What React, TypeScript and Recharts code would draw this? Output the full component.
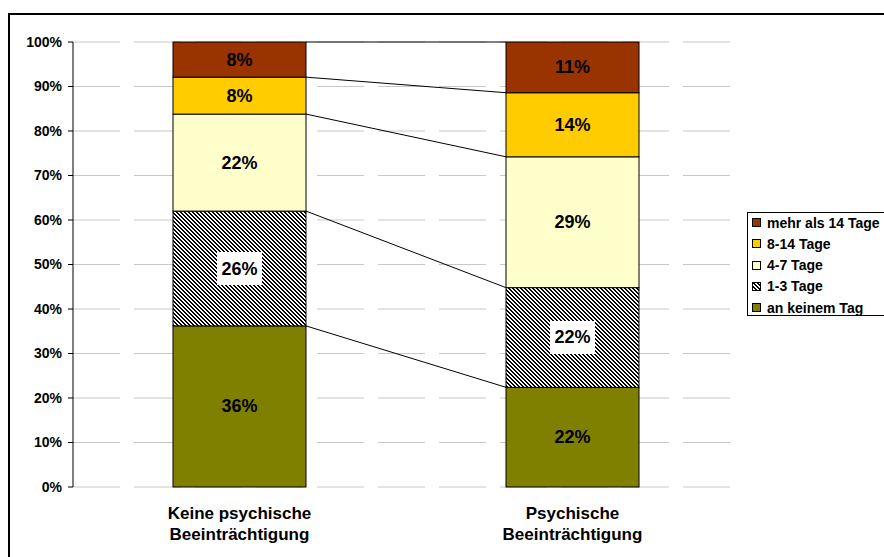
import React from 'react';
import { BarChart, Bar, XAxis, YAxis, CartesianGrid, Legend, LabelList } from 'recharts';

const FONT = "Arial, 'Liberation Sans', Helvetica, sans-serif";

const categories = ['Keine psychische Beeinträchtigung', 'Psychische Beeinträchtigung'];
const seriesNames = ['an keinem Tag', '1-3 Tage', '4-7 Tage', '8-14 Tage', 'mehr als 14 Tage'];
const anKeinemTag = [36.2, 22.4];
const einsBisDreiTage = [25.8, 22.4];
const vierBisSiebenTage = [21.8, 29.4];
const achtBisVierzehnTage = [8.3, 14.4];
const mehrAlsVierzehnTage = [7.9, 11.4];
const yTicks = [0, 10, 20, 30, 40, 50, 60, 70, 80, 90, 100];
const boundaryTicks = [0, 1, 2];

const seriesValues = [anKeinemTag, einsBisDreiTage, vierBisSiebenTage, achtBisVierzehnTage, mehrAlsVierzehnTage];
const seriesFills = ['#808000', 'url(#hatch13)', '#FFFFCC', '#FFCC00', '#993300'];
const seriesKeys = ['s0', 's1', 's2', 's3', 's4'];

const data = categories.map((c, i) => {
  const row: Record<string, any> = { category: c };
  seriesKeys.forEach((k, j) => {
    row[k] = seriesValues[j][i];
  });
  return row;
});

const edges: Record<string, { x: number; y: number }> = {};

const makeShape = (key: string) => (props: any) => {
  const { x, y, width, height, fill, index } = props;
  if (index === 0) edges[key] = { x: x + width, y };
  const prev = edges[key];
  return (
    <g>
      <rect x={x} y={y} width={width} height={height} fill={fill} stroke="#000" strokeWidth={1} />
      {index === 1 && prev && (
        <line x1={prev.x} y1={prev.y} x2={x} y2={y} stroke="#000" strokeWidth={1} />
      )}
    </g>
  );
};

const makeLabel = (boxed: boolean) => (props: any) => {
  const { x, y, width, height, value } = props;
  const cx = Number(x) + Number(width) / 2;
  const cy = Number(y) + Number(height) / 2;
  return (
    <g>
      {boxed && <rect x={cx - 22.5} y={cy - 16.5} width={45} height={33} fill="#fff" />}
      <text
        x={cx}
        y={cy}
        textAnchor="middle"
        dominantBaseline="central"
        fontSize={18}
        fontWeight="bold"
        fontFamily={FONT}
        fill="#000"
      >
        {Math.round(Number(value))}%
      </text>
    </g>
  );
};

const CategoryTick = (props: any) => {
  const { x, y, payload } = props;
  const s = String(payload.value);
  const i = s.lastIndexOf(' ');
  const lines = [s.slice(0, i), s.slice(i + 1)];
  return (
    <text x={x} y={y} textAnchor="middle" fontSize={17} fontWeight="bold" fontFamily={FONT} fill="#000">
      {lines.map((l, k) => (
        <tspan key={k} x={x} dy={k === 0 ? 32 : 21}>
          {l}
        </tspan>
      ))}
    </text>
  );
};

const renderLegend = (props: any) => {
  const payload: any[] = props.payload || [];
  const items = [...payload].sort(
    (a, b) => seriesNames.indexOf(String(b.value)) - seriesNames.indexOf(String(a.value))
  );
  return (
    <div
      style={{
        width: 145,
        height: 102,
        border: '1px solid #000',
        background: '#fff',
        fontFamily: FONT,
        fontWeight: 'bold',
        fontSize: 14,
        color: '#000',
        boxSizing: 'content-box',
      }}
    >
      <div style={{ marginTop: -1 }}>
        {items.map((e) => (
          <div key={String(e.value)} style={{ height: 21.25, display: 'flex', alignItems: 'center' }}>
            <svg width={9} height={9} style={{ marginLeft: 4, marginRight: 6, flex: 'none' }}>
              <rect x={0.5} y={0.5} width={8} height={8} fill={e.color} stroke="#000" strokeWidth={1} />
            </svg>
            <span style={{ whiteSpace: 'nowrap' }}>{e.value}</span>
          </div>
        ))}
      </div>
    </div>
  );
};

export default function App() {
  return (
    <div style={{ position: 'fixed', left: 0, top: 0, width: 884, height: 557, background: '#fff' }}>
      <svg width={0} height={0} style={{ position: 'absolute' }}>
        <defs>
          <pattern id="hatch13" patternUnits="userSpaceOnUse" width={4} height={4}>
            <rect x={0} y={0} width={4} height={4} fill="#fff" />
            <rect x={0} y={0} width={2} height={1} fill="#000" />
            <rect x={1} y={1} width={2} height={1} fill="#000" />
            <rect x={2} y={2} width={2} height={1} fill="#000" />
            <rect x={3} y={3} width={1} height={1} fill="#000" />
            <rect x={0} y={3} width={1} height={1} fill="#000" />
          </pattern>
        </defs>
      </svg>
      <BarChart
        width={884}
        height={557}
        data={data}
        margin={{ top: 42, right: 145, bottom: 10, left: 0 }}
        barSize={133}
        style={{ fontFamily: FONT }}
      >
        <CartesianGrid xAxisId="cat" vertical={false} stroke="#c8c8c8" strokeDasharray="47 14" />
        <XAxis
          xAxisId="edge"
          type="number"
          domain={[0, 2]}
          ticks={boundaryTicks}
          tick={false}
          tickSize={5}
          tickLine={{ stroke: '#000' }}
          axisLine={{ stroke: '#000' }}
          height={0}
          allowDataOverflow
        />
        <XAxis
          xAxisId="cat"
          dataKey="category"
          axisLine={false}
          tickLine={false}
          tickSize={0}
          tickMargin={0}
          height={60}
          interval={0}
          tick={<CategoryTick />}
        />
        <YAxis
          width={73}
          domain={[0, 100]}
          ticks={yTicks}
          tickFormatter={(v: number) => `${v}%`}
          tick={{ fontSize: 14, fontWeight: 'bold', fill: '#000', fontFamily: FONT }}
          tickSize={5}
          tickMargin={6}
          tickLine={{ stroke: '#000' }}
          axisLine={{ stroke: '#000' }}
          interval={0}
        />
        {seriesKeys.map((k, j) => (
          <Bar
            key={k}
            xAxisId="cat"
            dataKey={k}
            name={seriesNames[j]}
            stackId="a"
            fill={seriesFills[j]}
            shape={makeShape(k)}
            isAnimationActive={false}
          >
            <LabelList dataKey={k} content={makeLabel(j === 1)} />
          </Bar>
        ))}
        <Legend
          layout="vertical"
          align="center"
          verticalAlign="middle"
          content={renderLegend}
          wrapperStyle={{ left: 747, top: 212, width: 160, height: 104 }}
        />
      </BarChart>
      <div
        style={{
          position: 'fixed',
          left: 8,
          top: 13,
          width: 3000,
          height: 3000,
          border: '2px solid #000',
          pointerEvents: 'none',
        }}
      />
    </div>
  );
}
